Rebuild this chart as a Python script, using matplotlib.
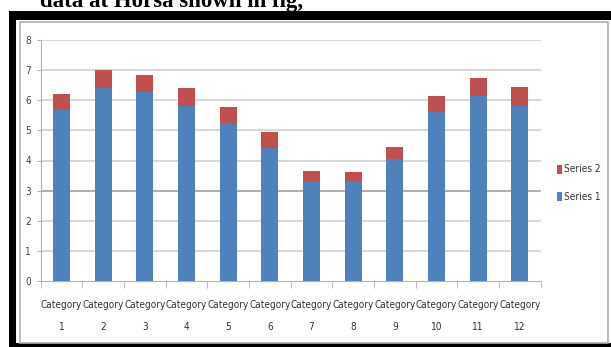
import numpy as np
import matplotlib
matplotlib.use("Agg")
import matplotlib.pyplot as plt
from matplotlib.patches import Rectangle
from matplotlib import font_manager

categories = ["Category\n%d" % i for i in range(1, 13)]
series1 = [5.68, 6.40, 6.27, 5.82, 5.24, 4.43, 3.32, 3.30, 4.05, 5.60, 6.15, 5.81]
series2 = [0.53, 0.61, 0.57, 0.58, 0.53, 0.50, 0.33, 0.33, 0.39, 0.55, 0.58, 0.62]
yticks = [0, 1, 2, 3, 4, 5, 6, 7, 8]

blue = "#4F81BD"
red = "#C0504D"

# pick a narrow face if one is around
names = {f.name for f in font_manager.fontManager.ttflist}
if "Liberation Sans Narrow" in names:
    narrow = font_manager.FontProperties(family="Liberation Sans Narrow", size=8)
else:
    narrow = font_manager.FontProperties(family="DejaVu Sans", stretch="condensed", size=7.2)

fig = plt.figure(figsize=(6.11, 3.47), dpi=100)
W, H = 611, 347

# cropped caption line at the top of the page
fig.text(172 / W, 1 - 7 / H, "data at Horsa shown in fig,", family="Liberation Serif",
         weight="bold", fontsize=16.5, ha="center", va="baseline")

# black frame of the pasted picture and the inner grey frame
fig.patches.append(Rectangle((9 / W, 0), (W - 9) / W, 1 - 11 / H, transform=fig.transFigure,
                             facecolor="black", edgecolor="none", zorder=0))
fig.patches.append(Rectangle((16 / W, 4 / H), (W - 16) / W, 1 - 20 / H - 4 / H,
                             transform=fig.transFigure, facecolor="white",
                             edgecolor="none", zorder=0))
fig.patches.append(Rectangle((19.5 / W, 4.5 / H), (608 - 19.5) / W, 1 - 21.5 / H - 4.5 / H,
                             transform=fig.transFigure, facecolor="white",
                             edgecolor="#b0b0b0", linewidth=1.2, zorder=0))

ax = fig.add_axes([40.7 / W, 1 - 281 / H, 500 / W, 241 / H], zorder=2)
ax.set_facecolor("none")
x = np.arange(len(categories))
ax.bar(x, series1, width=0.41, color=blue, label="Series 1", zorder=3)
ax.bar(x, series2, width=0.41, bottom=series1, color=red, label="Series 2", zorder=3)

ax.set_xlim(-0.5, 11.5)
ax.set_ylim(0, 8)
ax.set_yticks(yticks)
ax.set_yticklabels([str(v) for v in yticks], fontproperties=narrow, color="#404040")
for v in yticks[1:]:
    ax.axhline(v, color="#a8a8a8" if v == 3 else "#d4d4d4", linewidth=1.3, zorder=1)

ax.set_xticks(x)
ax.set_xticklabels(categories, fontproperties=narrow, color="#303030", linespacing=2.5)
ax.set_xticks(np.arange(-0.5, 12, 1), minor=True)
ax.tick_params(axis="x", which="major", length=0, pad=14)
ax.tick_params(axis="x", which="minor", length=5, color="#b0b0b0", direction="out")
ax.tick_params(axis="y", length=3, color="#b0b0b0", pad=4)

for s in ["top", "right"]:
    ax.spines[s].set_visible(False)
ax.spines["left"].set_color("#b0b0b0")
ax.spines["bottom"].set_color("#b0b0b0")

h, l = ax.get_legend_handles_labels()
leg = fig.legend(h[::-1], l[::-1], loc="center left", bbox_to_anchor=(548 / W, 1 - 183 / H),
                 frameon=False, handlelength=0.45, handleheight=1.0, handletextpad=0.3,
                 labelspacing=1.7, prop=narrow)
for t in leg.get_texts():
    t.set_color("#303030")

fig.savefig("out.png", dpi=100)
